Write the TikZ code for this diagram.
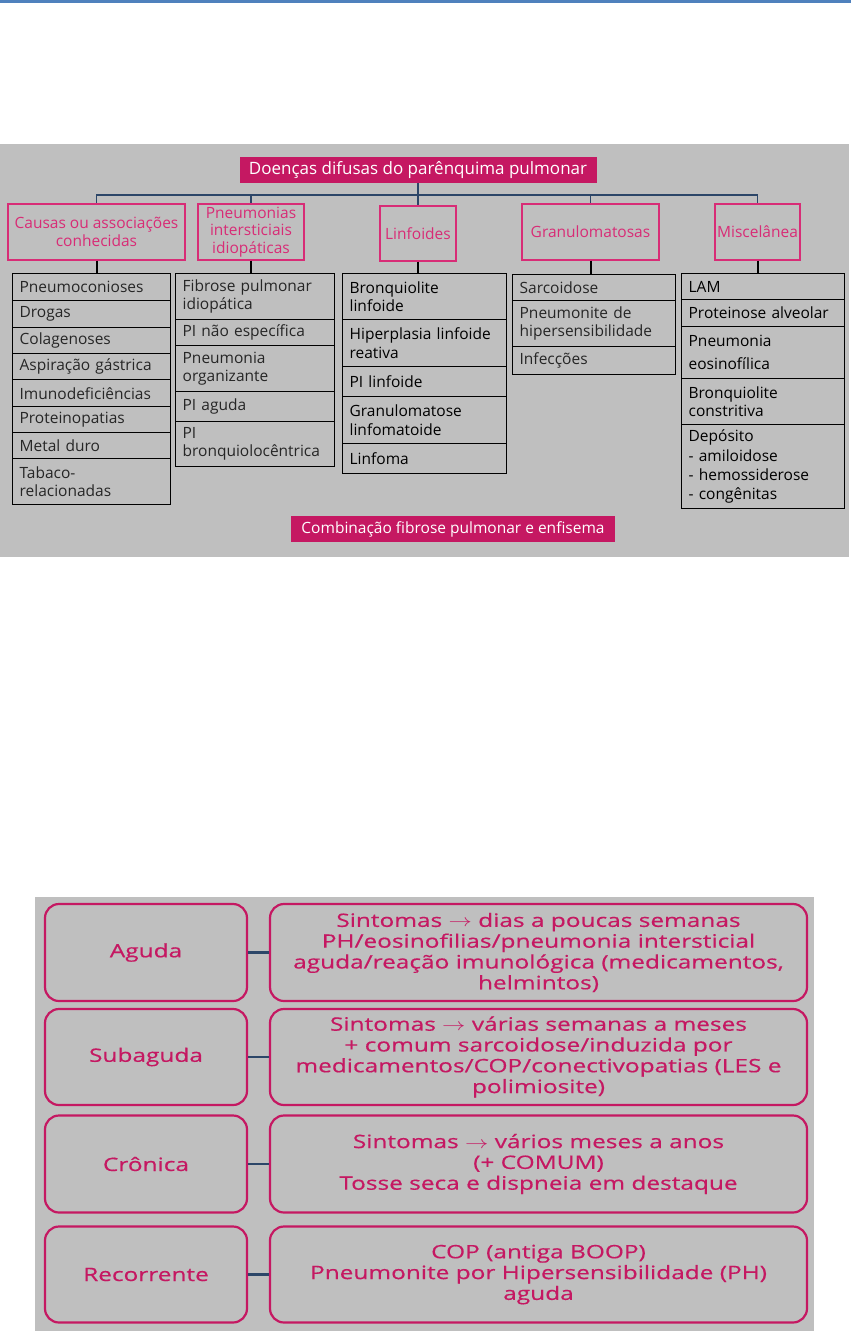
\documentclass[tikz,border=0pt]{standalone}
\usepackage{fontspec}
\setmainfont{Open Sans}
\newfontfamily\widesans[FakeStretch=1.32,FakeBold=0.5]{Open Sans}
\usetikzlibrary{calc}
\definecolor{pinkA}{RGB}{197,24,98}
\definecolor{pinkB}{RGB}{216,44,118}
\definecolor{panelgray}{RGB}{191,191,191}
\definecolor{busblue}{RGB}{44,70,104}
\definecolor{topblue}{RGB}{79,129,189}
\newcommand{\thinarrow}{\scalebox{1.35}[1]{$\rightarrow$}}

\begin{document}
\begin{tikzpicture}[x=1pt,y=-1pt,
    header/.style={fill=pinkA,text=white,minimum width=357pt,minimum height=26pt,
                   inner sep=0pt,font=\fontsize{17}{19}\selectfont},
    catbox/.style={draw=pinkB,line width=1.4pt,text=pinkB,align=center,inner sep=0pt,
                   minimum height=56pt,font=\fontsize{15.5}{17.5}\selectfont},
    cell/.style={draw=black,line width=1.3pt,anchor=north west,align=left,
                 inner xsep=7pt,inner ysep=1pt,text=black!85,
                 font=\fontsize{15.5}{18.3}\selectfont},
    cellA/.style={cell,text width=144pt},
    cellB/.style={cell,text width=145pt},
    cellC/.style={cell,text width=150pt,text=black},
    cellD/.style={cell,text width=149pt},
    cellE/.style={cell,text width=149pt,text=black},
    bus/.style={draw=busblue,line width=1.8pt},
    drop/.style={draw=black,line width=2pt},
    phase/.style={draw=pinkA,line width=2.2pt,rounded corners=14pt,text=pinkA,
                  align=center,inner sep=0pt,minimum width=202pt,minimum height=96pt,
                  font=\widesans\fontsize{18.5}{20.8}\selectfont},
    note/.style={phase,minimum width=537pt},
    link/.style={draw=busblue,line width=2.4pt}
  ]
    \useasboundingbox (0,0) rectangle (851,1331);
    \fill[topblue] (0,0) rectangle (851,3);
    \fill[panelgray] (0,144) rectangle (849,557);
    \fill[panelgray] (35,897) rectangle (814,1331);

    \node[header] (title) at (418,170) {Doenças difusas do parênquima pulmonar};

    \node[catbox,minimum width=177pt] (causas) at (96.5,232) {Causas ou associações\\conhecidas};
    \node[catbox,minimum width=106pt] (pneum) at (251,232) {Pneumonias\\intersticiais\\idiopáticas};
    \node[catbox,minimum width=76pt,minimum height=55pt] (linf) at (418,233.5) {Linfoides};
    \node[catbox,minimum width=137pt] (granul) at (590.5,232) {Granulomatosas};
    \node[catbox,minimum width=85pt] (misc) at (757.5,232) {Miscelânea};

    \node[cellA,minimum height=27pt] (l1a) at (12,273) {Pneumoconioses};
    \node[cellA,minimum height=27pt] (l1b) at (12,300) {Drogas};
    \node[cellA,minimum height=26pt] (l1c) at (12,327) {Colagenoses};
    \node[cellA,minimum height=26pt] (l1d) at (12,353) {Aspiração gástrica};
    \node[cellA,minimum height=27pt] (l1e) at (12,379) {Imunodeficiências};
    \node[cellA,minimum height=26pt] (l1f) at (12,406) {Proteinopatias};
    \node[cellA,minimum height=26pt] (l1g) at (12,432) {Metal duro};
    \node[cellA,minimum height=46pt] (l1h) at (12,458) {Tabaco-\\relacionadas};

    \node[cellB,minimum height=46pt] (l2a) at (175,273) {Fibrose pulmonar\\idiopática};
    \node[cellB,minimum height=26pt] (l2b) at (175,319) {PI não específica};
    \node[cellB,minimum height=46pt] (l2c) at (175,345) {Pneumonia\\organizante};
    \node[cellB,minimum height=30pt] (l2d) at (175,391) {PI aguda};
    \node[cellB,minimum height=45pt] (l2e) at (175,421) {PI\\bronquiolocêntrica};

    \node[cellC,minimum height=46pt] (l3a) at (342,273) {Bronquiolite\\linfoide};
    \node[cellC,minimum height=47pt] (l3b) at (342,319) {Hiperplasia linfoide\\reativa};
    \node[cellC,minimum height=30pt] (l3c) at (342,366) {PI linfoide};
    \node[cellC,minimum height=47pt] (l3d) at (342,396) {Granulomatose\\linfomatoide};
    \node[cellC,minimum height=30pt] (l3e) at (342,443) {Linfoma};

    \node[cellD,minimum height=26pt] (l4a) at (512,274) {Sarcoidose};
    \node[cellD,minimum height=46pt] (l4b) at (512,300) {Pneumonite de\\hipersensibilidade};
    \node[cellD,minimum height=28pt] (l4c) at (512,346) {Infecções};

    \node[cellE,minimum height=26pt] (l5a) at (681,273) {LAM};
    \node[cellE,minimum height=27pt] (l5b) at (681,299) {Proteinose alveolar};
    \node[cellE,minimum height=52pt,font=\fontsize{15.5}{23}\selectfont] (l5c) at (681,326) {Pneumonia\\eosinofílica};
    \node[cellE,minimum height=46pt] (l5d) at (681,378) {Bronquiolite\\constritiva};
    \node[cellE,minimum height=84pt,font=\fontsize{15.5}{19.3}\selectfont] (l5e) at (681,424) {Depósito\\- amiloidose\\- hemossiderose\\- congênitas};

    \node[header,minimum width=324pt,font=\fontsize{15.5}{18}\selectfont] (combo) at (453,529) {Combinação fibrose pulmonar e enfisema};

    \draw[bus] (title.south) -- ++(0,12) -| (causas.north);
    \draw[bus] (title.south) -- ++(0,12) -| (pneum.north);
    \draw[bus] (title.south) -- (linf.north);
    \draw[bus] (title.south) -- ++(0,12) -| (granul.north);
    \draw[bus] (title.south) -- ++(0,12) -| (misc.north);

    \draw[drop] (causas.south) -- (causas.south |- l1a.north);
    \draw[drop] (pneum.south) -- (pneum.south |- l2a.north);
    \draw[drop] (linf.south) -- (linf.south |- l3a.north);
    \draw[drop] (granul.south) -- (granul.south |- l4a.north);
    \draw[drop] (misc.south) -- (misc.south |- l5a.north);

    \node[phase,minimum height=97pt] (agd) at (146,952.5) {Aguda};
    \node[note,minimum height=97pt] (agdnote) at (538.5,952.5)
      {Sintomas \thinarrow\ dias a poucas semanas\\PH/eosinofilias/pneumonia intersticial\\aguda/reação imunológica (medicamentos,\\helmintos)};
    \node[phase] (subag) at (146,1057) {Subaguda};
    \node[note] (subagnote) at (538.5,1057)
      {Sintomas \thinarrow\ várias semanas a meses\\+ comum sarcoidose/induzida por\\medicamentos/COP/conectivopatias (LES e\\polimiosite)};
    \node[phase,minimum height=97pt] (cron) at (146,1164) {Crônica};
    \node[note,minimum height=97pt] (cronnote) at (538.5,1164)
      {Sintomas \thinarrow\ vários meses a anos\\(+ COMUM)\\Tosse seca e dispneia em destaque};
    \node[phase] (recor) at (146,1274.5) {Recorrente};
    \node[note] (recornote) at (538.5,1274.5)
      {COP (antiga BOOP)\\Pneumonite por Hipersensibilidade (PH)\\aguda};

    \draw[link] (agd) -- (agdnote);
    \draw[link] (subag) -- (subagnote);
    \draw[link] (cron) -- (cronnote);
    \draw[link] (recor) -- (recornote);
  \end{tikzpicture}
\end{document}
